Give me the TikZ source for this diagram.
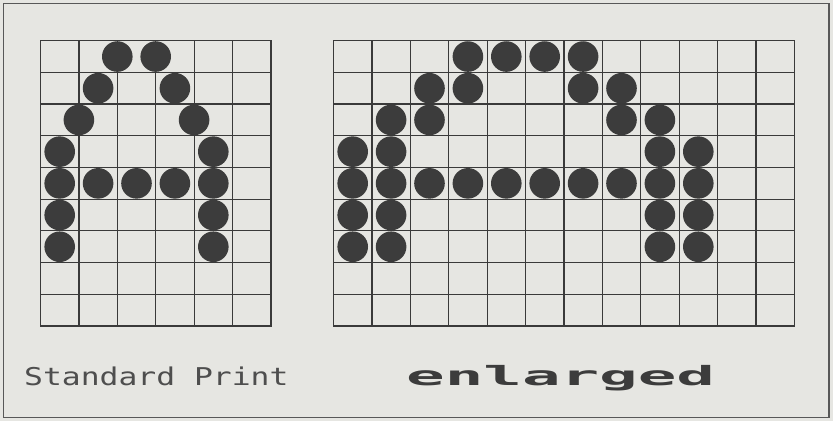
\documentclass[tikz,border=0pt]{standalone}
\usepackage{fontspec}
\newfontfamily\dotfont[FakeStretch=1.28]{DejaVu Sans Mono}
\newfontfamily\widefont[FakeStretch=2.42]{DejaVu Sans Mono Bold}
\definecolor{paper}{HTML}{E6E6E2}
\definecolor{gridink}{HTML}{3A3A3A}
\definecolor{dotink}{HTML}{3C3C3C}
\definecolor{printink}{HTML}{4E4E4E}
\begin{document}
\begin{tikzpicture}[x=1pt,y=1pt]
		\tikzstyle{every node}=[inner sep=0pt, anchor=base west]
		\tikzstyle{gridline}=[line width=1.2pt, draw=gridink]
		\tikzstyle{printdot}=[fill=dotink]
		
		\fill[paper] (0,0) rectangle (833,421);
		\draw[line width=1.6pt, draw=gridink!85] (3.5,3.5) rectangle (829,417.5);
		
		% standard print grid, 6 x 9 cells
		\begin{scope}[shift={(40.5,95)}, x=19.2pt, y=31.7pt]
		\draw[gridline] (0,0) grid[xstep=2, ystep=1] (12,9);
		\draw[gridline] (0,0) rectangle (12,9);
		\fill[printdot] (4,8.5) circle (15.3pt) (6,8.5) circle (15.3pt);
		\fill[printdot] (3,7.5) circle (15.3pt) (7,7.5) circle (15.3pt);
		\fill[printdot] (2,6.5) circle (15.3pt) (8,6.5) circle (15.3pt);
		\fill[printdot] (1,5.5) circle (15.3pt) (9,5.5) circle (15.3pt);
		\fill[printdot] (1,4.5) circle (15.3pt) (3,4.5) circle (15.3pt) (5,4.5) circle (15.3pt) (7,4.5) circle (15.3pt) (9,4.5) circle (15.3pt);
		\fill[printdot] (1,3.5) circle (15.3pt) (9,3.5) circle (15.3pt);
		\fill[printdot] (1,2.5) circle (15.3pt) (9,2.5) circle (15.3pt);
		\end{scope}
		
		% enlarged grid, 12 x 9 cells
		\begin{scope}[shift={(333.5,95)}, x=19.2pt, y=31.7pt]
		\draw[gridline] (0,0) grid[xstep=2, ystep=1] (24,9);
		\draw[gridline] (0,0) rectangle (24,9);
		\fill[printdot] (7,8.5) circle (15.3pt) (9,8.5) circle (15.3pt) (11,8.5) circle (15.3pt) (13,8.5) circle (15.3pt);
		\fill[printdot] (5,7.5) circle (15.3pt) (7,7.5) circle (15.3pt) (13,7.5) circle (15.3pt) (15,7.5) circle (15.3pt);
		\fill[printdot] (3,6.5) circle (15.3pt) (5,6.5) circle (15.3pt) (15,6.5) circle (15.3pt) (17,6.5) circle (15.3pt);
		\fill[printdot] (1,5.5) circle (15.3pt) (3,5.5) circle (15.3pt) (17,5.5) circle (15.3pt) (19,5.5) circle (15.3pt);
		\fill[printdot] (1,4.5) circle (15.3pt) (3,4.5) circle (15.3pt) (5,4.5) circle (15.3pt) (7,4.5) circle (15.3pt) (9,4.5) circle (15.3pt)
		(11,4.5) circle (15.3pt) (13,4.5) circle (15.3pt) (15,4.5) circle (15.3pt) (17,4.5) circle (15.3pt) (19,4.5) circle (15.3pt);
		\fill[printdot] (1,3.5) circle (15.3pt) (3,3.5) circle (15.3pt) (17,3.5) circle (15.3pt) (19,3.5) circle (15.3pt);
		\fill[printdot] (1,2.5) circle (15.3pt) (3,2.5) circle (15.3pt) (17,2.5) circle (15.3pt) (19,2.5) circle (15.3pt);
		\end{scope}
		
		\node[text=printink, font=\dotfont\fontsize{24.5pt}{28pt}\selectfont] (standard) at (24,36) {Standard Print};
		\node[text=dotink, font=\widefont\fontsize{26.5pt}{30pt}\selectfont] (enlarged) at (406,36) {enlarged};
		
	\end{tikzpicture}
\end{document}
